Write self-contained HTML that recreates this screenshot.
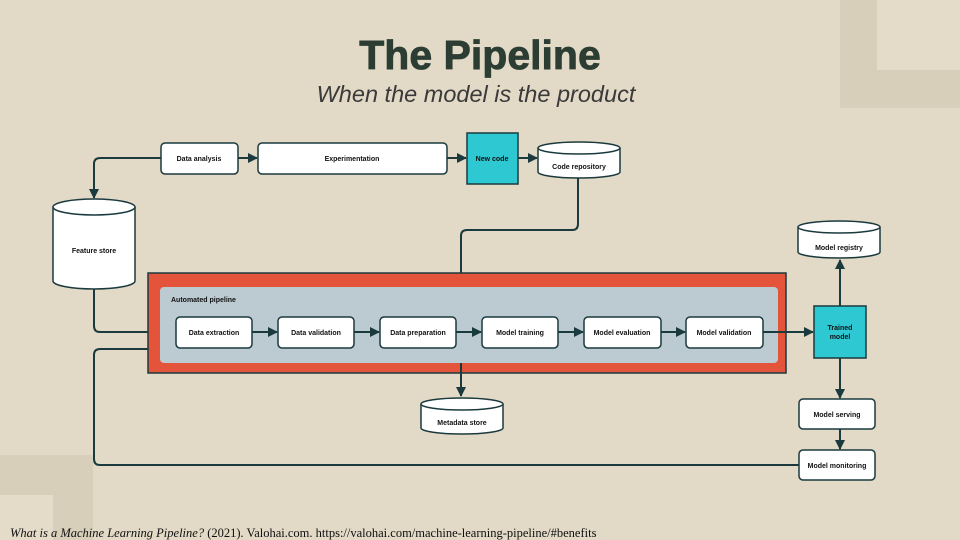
<!DOCTYPE html>
<html><head><meta charset="utf-8"><style>
html,body{margin:0;padding:0;width:960px;height:540px;overflow:hidden;background:#e2d9c6}
svg{display:block}
</style></head><body>
<svg width="960" height="540" viewBox="0 0 960 540" xmlns="http://www.w3.org/2000/svg" font-family="Liberation Sans, sans-serif">
<defs>
<marker id="a" viewBox="0 0 10 10" refX="9" refY="5" markerWidth="5" markerHeight="5" orient="auto"><path d="M0,0L10,5L0,10z" fill="#1b3a3e"/></marker>
</defs>
<rect x="0" y="0" width="960" height="540" fill="#e2d9c6"/>
<rect x="840" y="0" width="120" height="108" fill="#d8cfbb"/>
<rect x="877" y="0" width="83" height="70" fill="#e4dbc8"/>
<rect x="0" y="455" width="93" height="85" fill="#d8cfbb"/>
<rect x="0" y="495" width="53" height="45" fill="#e4dbc8"/>
<text x="480" y="69" text-anchor="middle" font-size="41" font-weight="bold" fill="#2c3d33" stroke="#2c3d33" stroke-width="0.8">The Pipeline</text>
<text x="476" y="102" text-anchor="middle" font-size="23.5" font-style="italic" fill="#3a3a3a">When the model is the product</text>
<g stroke="#1b3a3e" stroke-width="2" fill="none">
<path d="M161,158H100Q94,158 94,164V198" marker-end="url(#a)"/>
<path d="M238,158H257" marker-end="url(#a)"/>
<path d="M447,158H466" marker-end="url(#a)"/>
<path d="M518,158H537" marker-end="url(#a)"/>
<path d="M578,178V224Q578,230 572,230H467Q461,230 461,236V284" marker-end="url(#a)"/>
<path d="M94,287V326Q94,332 100,332H175" marker-end="url(#a)"/>
<path d="M799,465H100Q94,465 94,459V355Q94,349 100,349H159" marker-end="url(#a)"/>
</g>
<rect x="148" y="273" width="638" height="100" fill="#e4543a" stroke="#1b3a3e" stroke-width="1.5"/>
<rect x="160" y="287" width="618" height="76" rx="4" fill="#bccad2"/>
<text x="171" y="302" font-size="7" font-weight="bold" fill="#111">Automated pipeline</text>
<g stroke="#1b3a3e" stroke-width="2" fill="none">
<path d="M252,332H277" marker-end="url(#a)"/>
<path d="M354,332H379" marker-end="url(#a)"/>
<path d="M456,332H481" marker-end="url(#a)"/>
<path d="M558,332H583" marker-end="url(#a)"/>
<path d="M661,332H685" marker-end="url(#a)"/>
<path d="M763,332H813" marker-end="url(#a)"/>
<path d="M461,363V396" marker-end="url(#a)"/>
<path d="M840,306V260" marker-end="url(#a)"/>
<path d="M840,358V398" marker-end="url(#a)"/>
<path d="M840,429V449" marker-end="url(#a)"/>
</g>
<g stroke="#1b3a3e" stroke-width="1.5" fill="#fff">
<rect x="161" y="143" width="77" height="31" rx="4"/>
<rect x="258" y="143" width="189" height="31" rx="4"/>
<rect x="176" y="317" width="76" height="31" rx="4"/>
<rect x="278" y="317" width="76" height="31" rx="4"/>
<rect x="380" y="317" width="76" height="31" rx="4"/>
<rect x="482" y="317" width="76" height="31" rx="4"/>
<rect x="584" y="317" width="77" height="31" rx="4"/>
<rect x="686" y="317" width="77" height="31" rx="4"/>
<rect x="799" y="399" width="76" height="30" rx="4"/>
<rect x="799" y="450" width="76" height="30" rx="4"/>
<path d="M538,148V172A41,6 0 0 0 620,172V148"/><ellipse cx="579" cy="148" rx="41" ry="6"/>
<path d="M53,207V281A41,8 0 0 0 135,281V207"/><ellipse cx="94" cy="207" rx="41" ry="8"/>
<path d="M421,404V428A41,6 0 0 0 503,428V404"/><ellipse cx="462" cy="404" rx="41" ry="6"/>
<path d="M798,227V252A41,6 0 0 0 880,252V227"/><ellipse cx="839" cy="227" rx="41" ry="6"/>
</g>
<rect x="467" y="133" width="51" height="51" fill="#2dc8d2" stroke="#1b3a3e" stroke-width="1.5"/>
<rect x="814" y="306" width="52" height="52" fill="#2dc8d2" stroke="#1b3a3e" stroke-width="1.5"/>
<g font-size="7" font-weight="bold" fill="#111" text-anchor="middle">
<text x="199" y="161">Data analysis</text>
<text x="352" y="161">Experimentation</text>
<text x="492" y="161">New code</text>
<text x="579" y="169">Code repository</text>
<text x="94" y="253">Feature store</text>
<text x="214" y="335">Data extraction</text>
<text x="316" y="335">Data validation</text>
<text x="418" y="335">Data preparation</text>
<text x="520" y="335">Model training</text>
<text x="622" y="335">Model evaluation</text>
<text x="724" y="335">Model validation</text>
<text x="462" y="425">Metadata store</text>
<text x="839" y="250">Model registry</text>
<text x="840" y="330">Trained</text>
<text x="840" y="339">model</text>
<text x="837" y="417">Model serving</text>
<text x="837" y="468">Model monitoring</text>
</g>
<text x="10" y="537" font-family="Liberation Serif, serif" font-size="12.5" fill="#111"><tspan font-style="italic">What is a Machine Learning Pipeline?</tspan> (2021). Valohai.com. https://valohai.com/machine-learning-pipeline/#benefits</text>
</svg>
</body></html>
